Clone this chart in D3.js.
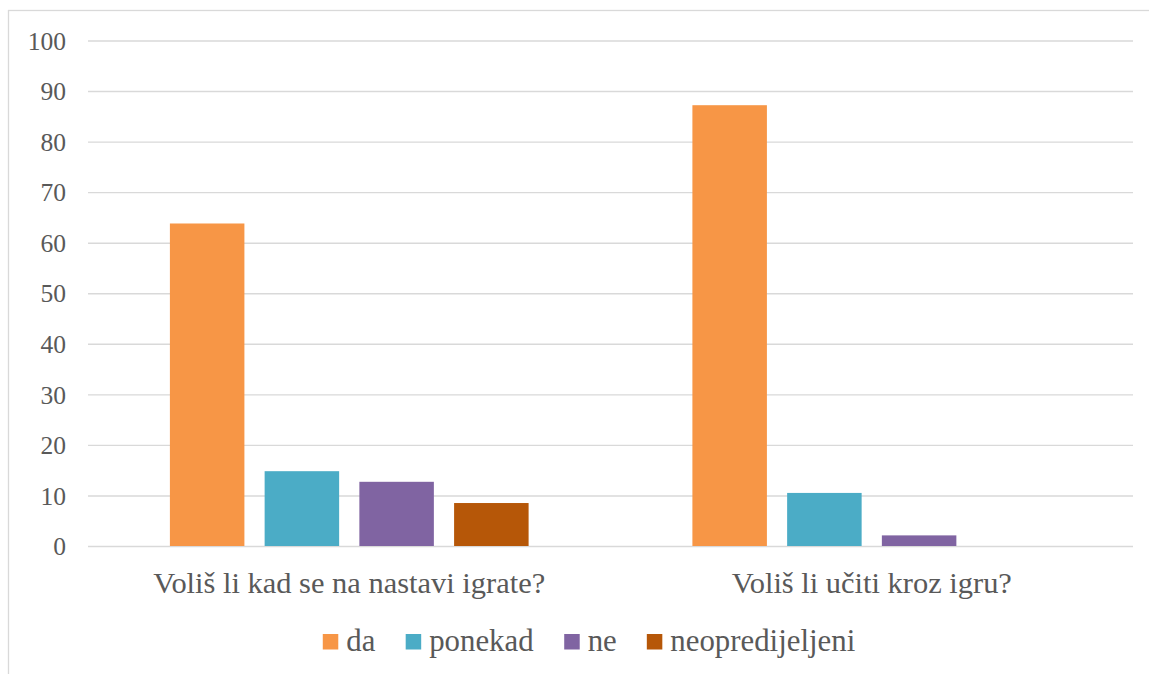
<!DOCTYPE html>
<html>
<head>
<meta charset="utf-8">
<script src="https://cdn.jsdelivr.net/npm/d3@7"></script>
<style>
  html, body { margin: 0; padding: 0; background: #fff; }
  svg { display: block; }
  text { font-family: "Liberation Serif", "DejaVu Serif", "Noto Serif", "Tinos", "Times New Roman", Times, "FreeSerif", Georgia, Cambria, serif; fill: #595959; }
</style>
</head>
<body>
<svg id="chart" width="1149" height="674"></svg>
<script>
const categories = ["Voliš li kad se na nastavi igrate?", "Voliš li učiti kroz igru?"];
const seriesNames = ["da", "ponekad", "ne", "neopredijeljeni"];
const da = [63.8, 87.2];
const ponekad = [14.8, 10.5];
const ne = [12.7, 2.1];
const neopredijeljeni = [8.5, 0];
const yTicks = [0, 10, 20, 30, 40, 50, 60, 70, 80, 90, 100];
const colors = ["#F79646", "#4BACC6", "#8064A2", "#B65708"];

const seriesValues = [da, ponekad, ne, neopredijeljeni];

const svg = d3.select("#chart");

function fitSize(sample, base, target) {
  const t = svg.append("text").attr("font-size", base).text(sample);
  const w = t.node().getComputedTextLength();
  t.remove();
  return w > 0 ? base * target / w : base;
}
const tickSize = fitSize("100", 25, 38.3);
const catSize = fitSize(categories[0], 30, 392);
const legSize = fitSize("neopredijeljeni", 30, 185);

svg.append("rect")
  .attr("x", 8.5).attr("y", 10.5)
  .attr("width", 1160).attr("height", 700)
  .attr("fill", "none").attr("stroke", "#d9d9d9").attr("stroke-width", 1.3);

const plotLeft = 88, plotRight = 1133, yZero = 546, yTop = 40.5;

const y = d3.scaleLinear().domain([0, 100]).range([yZero, yTop]);
const x0 = d3.scaleBand().domain(categories).range([plotLeft, plotRight]).padding(0);
const groupWidth = 358.7;
const groupOffset = (x0.bandwidth() - groupWidth) / 2;
const x1 = d3.scaleBand().domain(seriesNames)
  .range([groupOffset, groupOffset + groupWidth])
  .paddingInner(0.2135).paddingOuter(0);
const color = d3.scaleOrdinal().domain(seriesNames).range(colors);

const yAxis = d3.axisLeft(y).tickValues(yTicks).tickSize(-(plotRight - plotLeft)).tickPadding(22);
const gy = svg.append("g").attr("transform", `translate(${plotLeft},0)`).call(yAxis);
gy.attr("font-family", null);
gy.select(".domain").remove();
gy.selectAll(".tick line").attr("stroke", "#d9d9d9").attr("stroke-width", 1.4);
gy.selectAll(".tick text")
  .attr("font-size", tickSize)
  .attr("dy", "0.34em")
  .attr("fill", "#595959");

const rows = categories.map((c, i) => ({ cat: c, vals: seriesNames.map((s, j) => ({ s, v: seriesValues[j][i] })) }));
const groups = svg.append("g").selectAll("g").data(rows).join("g")
  .attr("transform", d => `translate(${x0(d.cat)},0)`);
groups.selectAll("rect").data(d => d.vals.filter(e => e.v > 0)).join("rect")
  .attr("x", d => x1(d.s))
  .attr("width", x1.bandwidth())
  .attr("y", d => y(d.v))
  .attr("height", d => y(0) - y(d.v))
  .attr("fill", d => color(d.s));

const xAxis = d3.axisBottom(x0).tickSize(0).tickPadding(0);
const gx = svg.append("g").attr("transform", `translate(0,${yZero})`).call(xAxis);
gx.attr("font-family", null);
gx.select(".domain").remove();
gx.selectAll(".tick text")
  .attr("dy", null)
  .attr("y", 47.3)
  .attr("font-size", catSize)
  .attr("fill", "#595959");

const legend = svg.append("g");
const items = legend.selectAll("g").data(seriesNames).join("g");
items.append("rect").attr("width", 15.5).attr("height", 15.5)
  .attr("y", 634).attr("fill", d => color(d));
items.append("text").text(d => d)
  .attr("x", 23.5).attr("y", 651)
  .attr("font-size", legSize);
let widths = [];
items.each(function() { widths.push(this.getBBox().width); });
const gap = 30;
const total = d3.sum(widths) + gap * (widths.length - 1);
let cx = 589 - total / 2;
items.attr("transform", (d, i) => { const t = `translate(${cx},0)`; cx += widths[i] + gap; return t; });
</script>
</body>
</html>
